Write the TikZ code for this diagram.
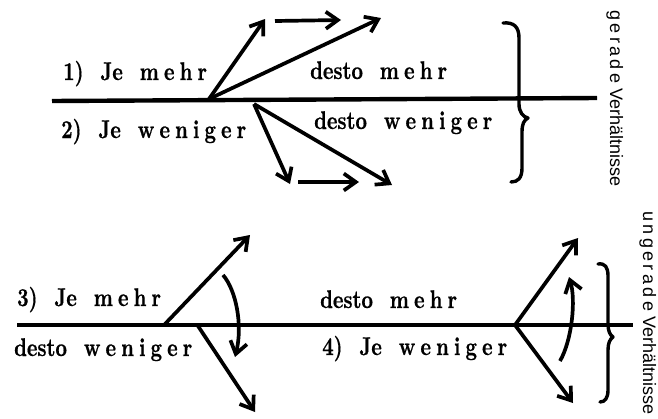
\documentclass[tikz,border=0pt]{standalone}
\usepackage{fontspec}
\newfontfamily\rotsans{Liberation Sans}
\newfontfamily\lblfont{lmroman10-bold.otf}[FakeStretch=0.78,FakeBold=0.6]
\usetikzlibrary{arrows.meta}
\newcommand\lsp{\kern0.2em}
\newcommand\rsp{\kern0.19em}
\newcommand\wg{\hspace{0.66em}}
\begin{document}
\begin{tikzpicture}[x=1pt,y=-1pt,
  axis/.style={line width=4.4pt},
  vec/.style={line width=3.7pt,-{Straight Barb[length=12pt,width=17pt]}},
  brc/.style={line width=3.4pt,line cap=round,line join=round},
  lbl/.style={inner sep=0pt,anchor=base west,font=\fontsize{25.6}{28}\lblfont},
  side/.style={inner sep=0pt,anchor=base west,rotate=-90,font=\fontsize{18}{20}\rotsans}]
\useasboundingbox (0,0) rectangle (658,418);
% ---------- top panel ----------
\coordinate (L1a) at (52,101);
\coordinate (L1b) at (597,98);
\draw[axis] (L1a) -- (L1b);
\coordinate (O1) at (209,99);
\coordinate (A1) at (265,19);
\coordinate (A2) at (381,18);
\coordinate (S1a) at (275,21);
\coordinate (S1b) at (341,20);
\coordinate (O2) at (254,104);
\coordinate (B1) at (290,184);
\coordinate (B2) at (392,185);
\coordinate (S2a) at (298,182);
\coordinate (S2b) at (359,182);
\draw[vec] (O1) -- (A1);
\draw[vec] (O1) -- (A2);
\draw[vec] (S1a) -- (S1b);
\draw[vec] (O2) -- (B1);
\draw[vec] (O2) -- (B2);
\draw[vec] (S2a) -- (S2b);
\node[lbl] (t1) at (63,80) {1)\wg Je\wg m\lsp e\lsp h\lsp r};
\node[lbl] (t2) at (61,138) {2)\wg Je\wg w\lsp e\lsp n\lsp i\lsp g\lsp e\lsp r};
\node[lbl] (t3) at (310,79) {desto\wg m\lsp e\lsp h\lsp r};
\node[lbl] (t4) at (314,129) {desto\wg w\lsp e\lsp n\lsp i\lsp g\lsp e\lsp r};
\draw[brc] (503,23) .. controls (514,22) and (519,27) .. (519,38) -- (519,104)
  .. controls (519,112) and (523,117) .. (528,118)
  .. controls (524,120) and (522,124) .. (522,132) -- (522,168)
  .. controls (522,178) and (518,182) .. (511,182);
\node[side] (s1) at (610,10) {g\rsp e\rsp r\rsp a\rsp d\rsp e Verhältnisse};
% ---------- bottom panel ----------
\coordinate (L2a) at (17,325);
\coordinate (L2b) at (633,325);
\draw[axis] (L2a) -- (L2b);
\coordinate (O3) at (165,324);
\coordinate (C1) at (250,235);
\coordinate (O4) at (198,326);
\coordinate (D1) at (255,412);
\coordinate (E1) at (223,275);
\coordinate (E2) at (235,357);
\draw[vec] (O3) -- (C1);
\draw[vec] (O4) -- (D1);
\draw[vec] (E1) .. controls (236,290) and (243,325) .. (E2);
\coordinate (O5) at (515,325);
\coordinate (F1) at (578,238);
\coordinate (F2) at (573,403);
\coordinate (G1) at (560,361);
\coordinate (G2) at (569,277);
\draw[vec] (O5) -- (F1);
\draw[vec] (O5) -- (F2);
\draw[vec] (G1) .. controls (572,340) and (576,300) .. (G2);
\node[lbl] (t5) at (17,306) {3)\wg Je\wg m\lsp e\lsp h\lsp r};
\node[lbl] (t6) at (14,356) {desto\wg w\lsp e\lsp n\lsp i\lsp g\lsp e\lsp r};
\node[lbl] (t7) at (320,308) {desto\wg m\lsp e\lsp h\lsp r};
\node[lbl] (t8) at (322,355) {4)\wg Je\wg w\lsp e\lsp n\lsp i\lsp g\lsp e\lsp r};
\draw[brc] (598,264) .. controls (605,263) and (608,267) .. (608,276) -- (608,324)
  .. controls (608,331) and (610,335) .. (613,337)
  .. controls (610,339) and (608,343) .. (608,350) -- (608,390)
  .. controls (608,398) and (605,402) .. (600,402);
\node[side] (s2) at (643,211) {u\rsp n\rsp g\rsp e\rsp r\rsp a\rsp d\rsp e Verhältnisse};
\end{tikzpicture}
\end{document}
